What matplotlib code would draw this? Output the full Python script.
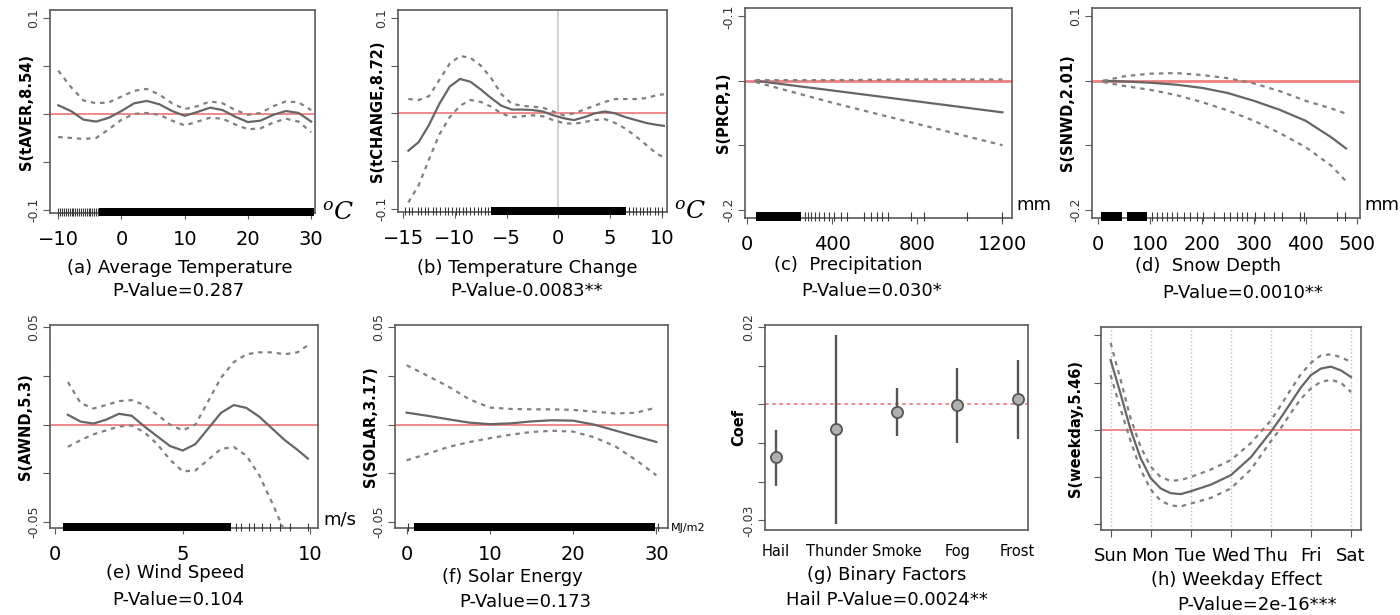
import matplotlib.pyplot as plt
import numpy as np
from matplotlib.patches import Rectangle

plt.rcParams['font.family'] = ['DejaVu Sans']
plt.rcParams['mathtext.fontset'] = 'dejavuserif'

# (a) average temperature
tavg_x = [-10, -8, -6, -4, -2, 0, 2, 4, 6, 8, 10, 12, 14, 16, 18, 20, 22, 24, 26, 28, 30]
tavg_fit = [0.009, 0.003, -0.006, -0.008, -0.004, 0.003, 0.011, 0.0135, 0.010, 0.003, -0.002,
            0.002, 0.0065, 0.004, -0.003, -0.0085, -0.007, -0.001, 0.003, 0.001, -0.008]
tavg_up = [0.045, 0.028, 0.014, 0.011, 0.012, 0.018, 0.024, 0.026, 0.020, 0.011, 0.005,
           0.008, 0.013, 0.011, 0.004, -0.001, 0.001, 0.008, 0.013, 0.012, 0.004]
tavg_lo = [-0.024, -0.025, -0.026, -0.025, -0.016, -0.006, 0.000, 0.001, -0.001, -0.007, -0.012,
           -0.008, -0.004, -0.005, -0.011, -0.016, -0.015, -0.009, -0.005, -0.008, -0.019]
tavg_rug_dense = [(-3.5, 30.5)]
tavg_rug = [-10, -9.7, -9.4, -9.1, -8.8, -8.5, -8.2, -7.9, -7.6, -7.3, -7.0, -6.7, -6.4, -6.1,
            -5.8, -5.5, -5.2, -4.9, -4.6, -4.3, -4.0, -3.7]

# (b) temperature change
tchg_x = [-14.5, -13.5, -12.5, -11.5, -10.5, -9.5, -8.5, -7.5, -6.5, -5.5, -4.5, -3.5, -2.5,
          -1.5, -0.5, 0.5, 1.5, 2.5, 3.5, 4.5, 5.5, 6.5, 7.5, 8.5, 9.5, 10.2]
tchg_fit = [-0.039, -0.030, -0.012, 0.010, 0.028, 0.036, 0.033, 0.025, 0.016, 0.008, 0.004, 0.004,
            0.0035, 0.002, -0.002, -0.005, -0.007, -0.004, 0.000, 0.002, 0.000, -0.004, -0.007,
            -0.010, -0.012, -0.013]
tchg_up = [0.015, 0.014, 0.018, 0.035, 0.052, 0.060, 0.058, 0.050, 0.037, 0.020, 0.010, 0.008,
           0.007, 0.006, 0.002, -0.002, 0.000, 0.004, 0.008, 0.012, 0.015, 0.015, 0.015, 0.016,
           0.019, 0.020]
tchg_lo = [-0.093, -0.075, -0.048, -0.022, -0.004, 0.008, 0.014, 0.012, 0.007, 0.000, -0.004,
           -0.003, -0.002, -0.003, -0.007, -0.010, -0.011, -0.009, -0.007, -0.006, -0.010, -0.016,
           -0.024, -0.033, -0.042, -0.046]
tchg_rug_dense = [(-6.5, 6.5)]
tchg_rug = [-14.8, -14.4, -14.1, -13.6, -13.3, -12.9, -12.6, -12.1, -11.8, -11.4, -11.0, -10.7,
            -10.3, -9.9, -9.6, -9.2, -8.9, -8.5, -8.2, -7.8, -7.5, -7.1, -6.8, 6.8, 7.2, 7.5,
            7.9, 8.2, 8.6, 8.9, 9.3, 9.6, 10.0]

# (c) precipitation
prcp_x = [40, 400, 800, 1200]
prcp_fit = [0.0, -0.015, -0.032, -0.049]
prcp_up = [0.001, 0.001, 0.002, 0.002]
prcp_lo = [-0.002, -0.034, -0.067, -0.100]
prcp_rug_dense = [(40, 255)]
prcp_rug = [270, 285, 300, 320, 340, 360, 385, 410, 440, 470, 550, 580, 612, 635, 660, 770, 830,
            1035, 1200]

# (d) snow depth
snwd_x = [10, 50, 100, 150, 200, 250, 300, 350, 400, 450, 478]
snwd_fit = [0.0, -0.001, -0.003, -0.006, -0.011, -0.019, -0.031, -0.045, -0.062, -0.088, -0.105]
snwd_up = [0.000, 0.007, 0.011, 0.012, 0.009, 0.004, -0.004, -0.016, -0.031, -0.043, -0.051]
snwd_lo = [-0.002, -0.008, -0.014, -0.022, -0.033, -0.046, -0.062, -0.081, -0.103, -0.132, -0.156]
snwd_rug_dense = [(5, 45), (55, 94)]
snwd_rug = [103, 113, 123, 132, 142, 152, 165, 177, 190, 203, 223, 242, 255, 268, 277, 287, 303,
            319, 339, 355, 390, 397, 461, 477]

# (e) wind speed
awnd_x = [0.5, 1, 1.5, 2, 2.5, 3, 3.5, 4, 4.5, 5, 5.5, 6, 6.5, 7, 7.5, 8, 8.5, 9, 9.5, 9.9]
awnd_fit = [0.0050, 0.0015, 0.0005, 0.0025, 0.0055, 0.0045, -0.001, -0.006, -0.011, -0.0133,
            -0.010, -0.002, 0.006, 0.0100, 0.0085, 0.004, -0.002, -0.008, -0.013, -0.0174]
awnd_up = [0.0218, 0.011, 0.0082, 0.010, 0.012, 0.0125, 0.010, 0.005, 0.000, -0.003, 0.000,
           0.012, 0.024, 0.032, 0.036, 0.037, 0.037, 0.036, 0.037, 0.0406]
awnd_lo = [-0.0114, -0.008, -0.005, -0.003, -0.001, -0.0005, -0.004, -0.010, -0.018, -0.0240,
           -0.0235, -0.018, -0.0125, -0.0115, -0.016, -0.026, -0.040, -0.055, -0.070, -0.080]
awnd_rug_dense = [(0.3, 6.9)]
awnd_rug = [7.1, 7.3, 7.6, 7.8, 8.1, 8.4, 8.8, 9.2, 9.9]

# (f) solar energy
solar_x = [0, 2.5, 5, 7.5, 10, 12.5, 15, 17.5, 20, 22.5, 25, 27.5, 30]
solar_fit = [0.0061, 0.0045, 0.0027, 0.0010, 0.0002, 0.0006, 0.0016, 0.0022, 0.0020, 0.000,
             -0.003, -0.006, -0.0089]
solar_up = [0.0304, 0.025, 0.0195, 0.013, 0.0087, 0.008, 0.0078, 0.0078, 0.0075, 0.0066, 0.0057,
            0.006, 0.0087]
solar_lo = [-0.0183, -0.015, -0.0115, -0.009, -0.007, -0.0052, -0.0038, -0.0032, -0.0036,
            -0.0065, -0.011, -0.018, -0.026]
solar_rug_dense = [(0.9, 29.8)]
solar_rug = [0.2, 30.2]

# (g) binary factors
factors = ['Hail', 'Thunder', 'Smoke', 'Fog', 'Frost']
coef = [-0.0137, -0.0065, -0.0020, -0.0003, 0.0013]
coef_lo = [-0.021, -0.031, -0.0083, -0.010, -0.0089]
coef_hi = [-0.0067, 0.018, 0.0043, 0.0094, 0.0114]

# (h) weekday effect
days = ['Sun', 'Mon', 'Tue', 'Wed', 'Thu', 'Fri', 'Sat']
wd_x = [1, 1.25, 1.5, 1.75, 2, 2.25, 2.5, 2.75, 3, 3.5, 4, 4.5, 5, 5.25, 5.5, 5.75, 6, 6.25, 6.5,
        6.75, 7]
wd_fit = [0.074, 0.038, 0.000, -0.030, -0.051, -0.062, -0.067, -0.068, -0.065, -0.058, -0.048,
          -0.029, -0.002, 0.013, 0.029, 0.045, 0.058, 0.065, 0.067, 0.063, 0.056]
wd_up = [0.092, 0.053, 0.012, -0.018, -0.039, -0.050, -0.054, -0.053, -0.050, -0.042, -0.032,
         -0.014, 0.010, 0.026, 0.043, 0.059, 0.071, 0.079, 0.080, 0.077, 0.072]
wd_lo = [0.058, 0.022, -0.012, -0.042, -0.063, -0.075, -0.080, -0.081, -0.078, -0.072, -0.062,
         -0.042, -0.012, 0.002, 0.018, 0.033, 0.044, 0.051, 0.053, 0.050, 0.040]

SOLID = '#666666'
DASH = '#808080'
RED = '#f08080'
FRAME = '#5a5a5a'

fig = plt.figure(figsize=(14, 6.15), dpi=100)


def box(l, t, r, b):
    # pixel box -> figure fraction
    return [l / 1400, 1 - b / 615, (r - l) / 1400, (b - t) / 615]


def style(ax, ylabel, yticks, ylabels, labx):
    for s in ax.spines.values():
        s.set_color(FRAME)
        s.set_linewidth(1.2)
    ax.set_yticks(yticks)
    ax.set_yticklabels(ylabels, rotation=90, va='center', fontsize=9, color='#333333')
    ax.tick_params(axis='y', direction='out', length=5, color=FRAME, pad=2)
    ax.tick_params(axis='x', direction='out', length=4, color=FRAME, labelsize=14, pad=8)
    ax.set_ylabel(ylabel, fontsize=10.5, fontweight='bold', va='center')
    ax.yaxis.set_label_coords(labx, 0.5)


def smooth(ax, x, fit, up, lo):
    ax.axhline(0, color=RED, lw=1.3, zorder=1)
    ax.plot(x, fit, color=SOLID, lw=1.6, zorder=3)
    ax.plot(x, up, color=DASH, lw=1.6, ls=(0, (2, 2.2)), zorder=3)
    ax.plot(x, lo, color=DASH, lw=1.6, ls=(0, (2, 2.2)), zorder=3)


def rug(ax, spans, ticks):
    tr = ax.get_xaxis_transform()
    for a, b in spans:
        ax.add_patch(Rectangle((a, -0.015), b - a, 0.042, transform=tr, color='black',
                               lw=0, clip_on=False, zorder=4))
    ax.vlines(ticks, -0.015, 0.027, transform=tr, color='#3a3a3a', lw=0.8, clip_on=False,
              zorder=4)


def caption(x, y, s):
    fig.text(x / 1400, 1 - y / 615, s, ha='center', va='center', fontsize=13)


# (a)
ax = fig.add_axes(box(50, 10, 315, 213))
smooth(ax, tavg_x, tavg_fit, tavg_up, tavg_lo)
rug(ax, tavg_rug_dense, tavg_rug)
ax.set_xlim(-11.3, 30.6)
ax.set_ylim(-0.103, 0.108)
ax.set_xticks([-10, 0, 10, 20, 30])
style(ax, 'S(tAVER,8.54)', [-0.1, -0.05, 0, 0.05, 0.1], ['-0.1', '', '', '', '0.1'], -0.09)
ax.text(1.025, 0.0, r'$^{o}C$', transform=ax.transAxes, fontsize=18, va='center')
caption(180, 268, '(a) Average Temperature')
caption(178, 291, 'P-Value=0.287')

# (b)
ax = fig.add_axes(box(398, 10, 667, 212))
ax.axvline(0, color='#c8c8c8', lw=1.2, zorder=1)
smooth(ax, tchg_x, tchg_fit, tchg_up, tchg_lo)
rug(ax, tchg_rug_dense, tchg_rug)
ax.set_xlim(-15.5, 10.5)
ax.set_ylim(-0.103, 0.108)
ax.set_xticks([-15, -10, -5, 0, 5, 10])
ax.set_xticklabels(['\u221215', '\u221210', '\u22125', '0', '5', '10'])
style(ax, 'S(tCHANGE,8.72)', [-0.1, -0.05, 0, 0.05, 0.1], ['-0.1', '', '', '', '0.1'], -0.075)
ax.text(1.025, 0.0, r'$^{o}C$', transform=ax.transAxes, fontsize=18, va='center')
caption(527, 268, '(b) Temperature Change')
caption(527, 291, 'P-Value-0.0083**')

# (c)
ax = fig.add_axes(box(745, 8, 1012, 218))
smooth(ax, prcp_x, prcp_fit, prcp_up, prcp_lo)
ax.lines[0].set_linewidth(2)
rug(ax, prcp_rug_dense, prcp_rug)
ax.set_xlim(-10, 1245)
ax.set_ylim(-0.213, 0.113)
ax.set_xticks([0, 400, 800, 1200])
style(ax, 'S(PRCP,1)', [-0.2, -0.1, 0, 0.1], ['-0.2', '', '', '-0.1'], -0.08)
ax.text(1.015, 0.02, 'mm', transform=ax.transAxes, fontsize=13, va='bottom')
caption(848, 265, '(c)  Precipitation')
caption(872, 291, 'P-Value=0.030*')

# (d)
ax = fig.add_axes(box(1092, 8, 1360, 218))
smooth(ax, snwd_x, snwd_fit, snwd_up, snwd_lo)
ax.lines[0].set_linewidth(2)
rug(ax, snwd_rug_dense, snwd_rug)
ax.set_xlim(-12, 505)
ax.set_ylim(-0.213, 0.113)
ax.set_xticks([0, 100, 200, 300, 400, 500])
style(ax, 'S(SNWD,2.01)', [-0.2, -0.1, 0, 0.1], ['-0.2', '', '', '0.1'], -0.09)
ax.text(1.015, 0.02, 'mm', transform=ax.transAxes, fontsize=13, va='bottom')
caption(1208, 266, '(d)  Snow Depth')
caption(1243, 293, 'P-Value=0.0010**')

# (e)
ax = fig.add_axes(box(50, 325, 318, 528))
smooth(ax, awnd_x, awnd_fit, awnd_up, awnd_lo)
rug(ax, awnd_rug_dense, awnd_rug)
ax.set_xlim(-0.2, 10.3)
ax.set_ylim(-0.053, 0.051)
ax.set_xticks([0, 5, 10])
style(ax, 'S(AWND,5.3)', [-0.05, -0.025, 0, 0.025, 0.05], ['-0.05', '', '', '', '0.05'], -0.09)
ax.text(1.02, 0.04, 'm/s', transform=ax.transAxes, fontsize=13, va='center')
caption(175, 573, '(e) Wind Speed')
caption(178, 600, 'P-Value=0.104')

# (f)
ax = fig.add_axes(box(395, 325, 668, 528))
smooth(ax, solar_x, solar_fit, solar_up, solar_lo)
rug(ax, solar_rug_dense, solar_rug)
ax.set_xlim(-1.4, 31.4)
ax.set_ylim(-0.053, 0.051)
ax.set_xticks([0, 10, 20, 30])
style(ax, 'S(SOLAR,3.17)', [-0.05, -0.025, 0, 0.025, 0.05], ['-0.05', '', '', '', '0.05'], -0.09)
ax.text(1.01, 0.0, 'MJ/m2', transform=ax.transAxes, fontsize=8, va='center')
caption(512, 577, '(f) Solar Energy')
caption(525, 602, 'P-Value=0.173')

# (g)
ax = fig.add_axes(box(765, 325, 1028, 530))
pos = np.arange(1, len(factors) + 1)
ax.axhline(0, color=RED, lw=1.3, ls=(0, (2, 2)), zorder=1)
ax.vlines(pos, coef_lo, coef_hi, color='#555555', lw=1.7, zorder=2)
ax.plot(pos, coef, 'o', ms=8, mfc='#b0b0b0', mec='#555555', mew=1.3, zorder=3)
ax.set_xlim(0.82, 5.17)
ax.set_ylim(-0.0325, 0.0205)
ax.set_xticks(pos)
ax.set_xticklabels(factors)
style(ax, 'Coef', [-0.03, -0.02, -0.01, 0, 0.01, 0.02], ['-0.03', '', '', '', '', '0.02'], -0.1)
ax.tick_params(axis='x', length=0, pad=10, labelsize=10.5)
caption(887, 575, '(g) Binary Factors')
caption(887, 600, 'Hail P-Value=0.0024**')

# (h)
ax = fig.add_axes(box(1101, 327, 1361, 530))
wpos = np.arange(1, len(days) + 1)
for p in wpos:
    ax.axvline(p, color='#c0c0c0', lw=1, ls=':', zorder=1)
smooth(ax, wd_x, wd_fit, wd_up, wd_lo)
ax.set_xlim(0.76, 7.25)
ax.set_ylim(-0.106, 0.109)
ax.set_xticks(wpos)
ax.set_xticklabels(days)
style(ax, 'S(weekday,5.46)', [-0.1, -0.05, 0, 0.05, 0.1], ['', '', '', '', ''], -0.1)
ax.tick_params(axis='x', length=5, pad=7, labelsize=13)
caption(1237, 580, '(h) Weekday Effect')
caption(1257, 605, 'P-Value=2e-16***')

fig.savefig('out.png', dpi=100, facecolor='white')
